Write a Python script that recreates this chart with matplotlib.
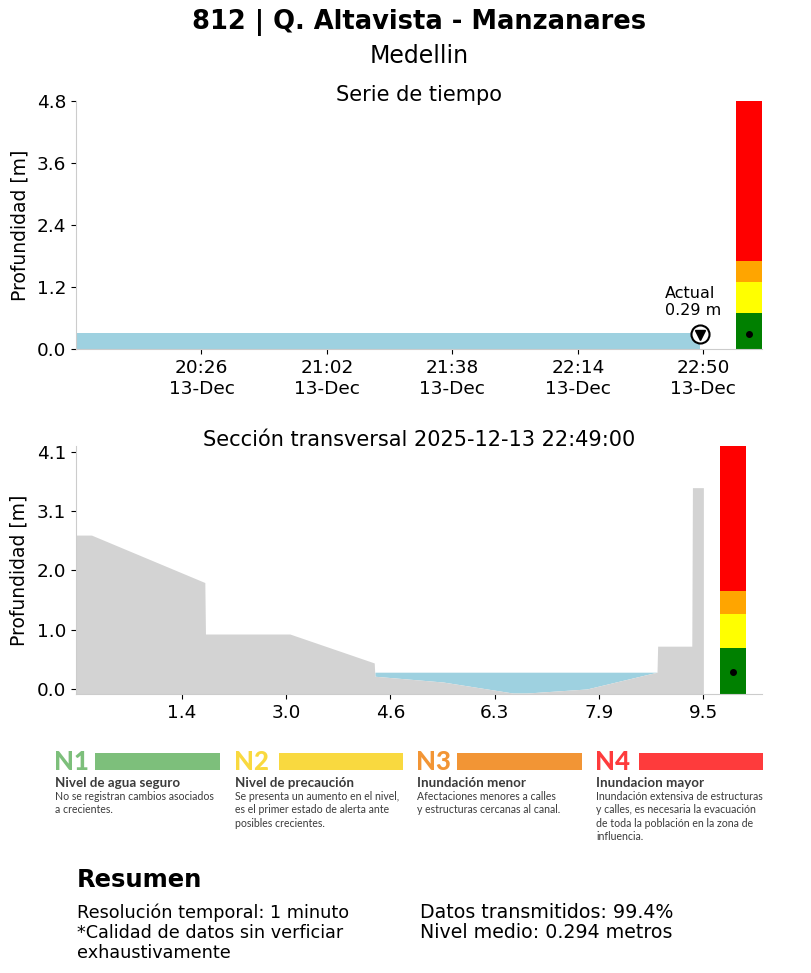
import datetime as dt
import matplotlib
matplotlib.use("Agg")
import matplotlib.pyplot as plt
import matplotlib.dates as mdates
import numpy as np

# ---------------- data ----------------
title = "812 | Q. Altavista - Manzanares"
subtitle = "Medellin"
ts_times = ["19:50", "20:10", "20:30", "20:50", "21:10", "21:30", "21:50",
            "22:10", "22:30", "22:49"]
ts_levels = [0.30, 0.30, 0.30, 0.30, 0.30, 0.30, 0.30, 0.30, 0.30, 0.30]
current_level = 0.29
tick_times = ["20:26", "21:02", "21:38", "22:14", "22:50"]
ts_ylim_top = 4.8
ts_yticks = [0.0, 1.2, 2.4, 3.6, 4.8]
ts_title = "Serie de tiempo"

thresholds = [0.0, 0.70, 1.30, 1.70]           # N1, N2, N3, N4 bottoms
threshold_colors = ["green", "yellow", "orange", "red"]

sec_x = [-0.24, 0.00, 1.76, 1.77, 3.08, 4.39, 4.40, 5.46, 6.54, 6.76, 7.69,
         8.78, 8.79, 9.32, 9.33, 9.50]
sec_y = [2.66, 2.66, 1.84, 0.95, 0.95, 0.45, 0.22, 0.12, -0.07, -0.07, 0.00,
         0.29, 0.74, 0.74, 3.48, 3.48]
sec_xticks = [1.40, 3.02, 4.64, 6.26, 7.88, 9.50]
sec_xlabels = ["1.4", "3.0", "4.6", "6.3", "7.9", "9.5"]
sec_yticks = [0.0, 1.025, 2.05, 3.075, 4.1]
sec_ylabels = ["0.0", "1.0", "2.0", "3.1", "4.1"]
sec_title = "Sección transversal 2025-12-13 22:49:00"

legend_codes = ["N1", "N2", "N3", "N4"]
legend_colors = ["#7DBF7B", "#F9D93F", "#F29535", "#FE3B3C"]
legend_heads = ["Nivel de agua seguro", "Nivel de precaución",
                "Inundación menor", "Inundacion mayor"]
legend_texts = [
    ["No se registran cambios asociados", "a crecientes."],
    ["Se presenta un aumento en el nivel,", "es el primer estado de alerta ante",
     "posibles crecientes."],
    ["Afectaciones menores a calles", "y estructuras cercanas al canal."],
    ["Inundación extensiva de estructuras", "y calles, es necesaria la evacuación",
     "de toda la población en la zona de", "influencia."],
]
summary_left = ["Resolución temporal: 1 minuto",
                "*Calidad de datos sin verficiar\nexhaustivamente"]
summary_right = ["Datos transmitidos: 99.4%", "Nivel medio: 0.294 metros"]

# ---------------- figure ----------------
W, H = 812, 973
fig = plt.figure(figsize=(W / 100, H / 100), dpi=100)
plt.rcParams['font.family'] = ['DejaVu Sans']

def ax_rect(l, t, r, b):
    return [l / W, 1 - b / H, (r - l) / W, (b - t) / H]

day = dt.date(2025, 12, 13)
def T(s):
    h, m = s.split(":")
    return dt.datetime(day.year, day.month, day.day, int(h), int(m))

SPINE = "#cccccc"
WATER = "#9ED1E0"

# ---- time series ----
ax1 = fig.add_axes(ax_rect(76, 101, 762, 349))
tt = [T(s) for s in ts_times]
ax1.fill_between(tt, 0, ts_levels, color=WATER, lw=0)
x_start = tt[0]
bar_l = T("22:59") + dt.timedelta(seconds=20)
bar_r = T("23:06") + dt.timedelta(seconds=50)
bounds = thresholds + [ts_ylim_top]
bl, br = mdates.date2num(bar_l), mdates.date2num(bar_r)
for i, c in enumerate(threshold_colors):
    ax1.bar(bl, bounds[i + 1] - bounds[i], bottom=bounds[i], width=br - bl,
            align="edge", color=c, lw=0)
ax1.plot([(bl + br) / 2], [current_level], "o", color="black", ms=4)
ax1.plot([tt[-1]], [current_level], "o", ms=13, mfc="white", mec="black", mew=1.5)
ax1.plot([tt[-1]], [current_level - 0.01], "v", ms=7, color="black")
ax1.text(mdates.date2num(tt[-1]) - 0.0070, 0.60,
         "Actual\n" + f"{current_level:.2f} m", fontsize=11.5, ha="left", va="bottom")
ax1.set_xlim(x_start, bar_r)
ax1.set_ylim(0, ts_ylim_top)
ax1.set_xticks([T(s) for s in tick_times])
ax1.set_xticklabels([s + "\n13-Dec" for s in tick_times], fontsize=13.3)
ax1.set_yticks(ts_yticks)
ax1.set_yticklabels([f"{v:.1f}" for v in ts_yticks], fontsize=13.3)
ax1.set_ylabel("Profundidad [m]", fontsize=13.5, labelpad=5)
for s in ["top", "right"]:
    ax1.spines[s].set_visible(False)
for s in ["left", "bottom"]:
    ax1.spines[s].set_color(SPINE)

# ---- cross section ----
ax2 = fig.add_axes(ax_rect(76, 446, 762, 694))
ybot = -0.087
ytop = 4.20
px = np.array(sec_x + [sec_x[-1]])
py = np.array(sec_y + [ybot])
wx = np.linspace(4.40, 8.78, 200)
wb = np.interp(wx, px[:-1], py[:-1])
ax2.fill_between(wx, wb, current_level, where=wb <= current_level + 1e-9,
                 color=WATER, lw=0)
ax2.fill_between(px, ybot, py, color="lightgray", lw=0)
bl2, br2 = 9.76, 10.16
bounds2 = [ybot] + thresholds[1:] + [ytop]
for i, c in enumerate(threshold_colors):
    ax2.bar(bl2, bounds2[i + 1] - bounds2[i], bottom=bounds2[i], width=br2 - bl2,
            align="edge", color=c, lw=0)
ax2.plot([(bl2 + br2) / 2], [current_level], "o", color="black", ms=4)
ax2.set_xlim(-0.24, 10.41)
ax2.set_ylim(ybot, ytop)
ax2.set_xticks(sec_xticks)
ax2.set_xticklabels(sec_xlabels, fontsize=13.3)
ax2.set_yticks(sec_yticks)
ax2.set_yticklabels(sec_ylabels, fontsize=13.3)
ax2.set_ylabel("Profundidad [m]", fontsize=13.5, labelpad=6)
for s in ["top", "right"]:
    ax2.spines[s].set_visible(False)
for s in ["left", "bottom"]:
    ax2.spines[s].set_color(SPINE)

# ---- overlay for texts / legend ----
ov = fig.add_axes([0, 0, 1, 1])
ov.set_xlim(0, W)
ov.set_ylim(H, 0)
ov.axis("off")
ov.text(419.5, 22, title, fontsize=18.5, fontweight="bold", ha="center", va="center")
ov.text(419.5, 56, subtitle, fontsize=17, ha="center", va="center")
ov.text(419.5, 101, ts_title, fontsize=15, ha="center", va="baseline")
ov.text(419.5, 446, sec_title, fontsize=15, ha="center", va="baseline")

code_x = [55, 235, 417, 596]
bar_x = [(95, 220), (279, 403), (457, 582), (639, 763)]
LF = ["Lato", "DejaVu Sans"]
for i in range(4):
    ov.text(code_x[i] - 1, 770.5, legend_codes[i], color=legend_colors[i],
            fontsize=18.5, fontweight="black", family=LF, ha="left", va="baseline")
    ov.add_patch(plt.Rectangle((bar_x[i][0], 753), bar_x[i][1] - bar_x[i][0], 17,
                               color=legend_colors[i], lw=0))
    ov.text(code_x[i], 787, legend_heads[i], color="#3b3b3b", fontsize=9.6,
            fontweight="bold", family=LF, ha="left", va="baseline")
    for j, line in enumerate(legend_texts[i]):
        ov.text(code_x[i], 800 + 13.3 * j, line, color="#3b3b3b", fontsize=7.6,
                family=LF, ha="left", va="baseline")

ov.text(77, 880, "Resumen", fontsize=17.5, fontweight="bold", ha="left", va="center")
ov.text(77, 903, summary_left[0] + "\n" + summary_left[1], fontsize=12.7,
        ha="left", va="top", linespacing=1.15)
ov.text(420, 902.5, summary_right[0] + "\n" + summary_right[1], fontsize=13.7,
        ha="left", va="top", linespacing=1.12)

fig.savefig("out.png", dpi=100)
